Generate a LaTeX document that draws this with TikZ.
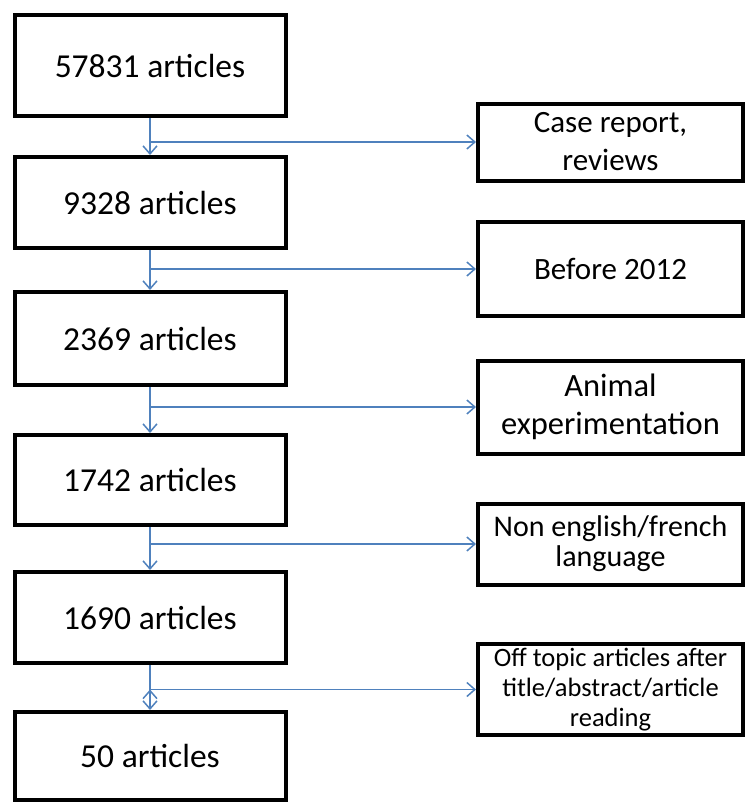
\documentclass[tikz,border=0pt]{standalone}
\usepackage{fontspec}
\setmainfont{Carlito}
\usepackage{tikz}
\usetikzlibrary{arrows.meta}
\definecolor{flowblue}{RGB}{79,129,189}
\tikzstyle{stage}=[rectangle,draw,line width=4pt,minimum width=271pt,inner sep=2pt,align=center,font=\fontsize{33.5}{40}\selectfont]
\tikzstyle{excl}=[rectangle,draw,line width=4pt,minimum width=265pt,inner sep=1pt,align=center,font=\fontsize{31}{38}\selectfont]
\tikzstyle{flow}=[draw=flowblue,line width=1.5pt,-{Straight Barb[length=8pt,width=14pt,line width=1.5pt]}]
\newcommand{\stage}{\node[stage]}
\newcommand{\excl}{\node[excl]}

\begin{document}
\begin{tikzpicture}[x=1pt,y=-1pt]
    \useasboundingbox (0,0) rectangle (747,804);
    \stage[minimum height=101pt] (a1) at (150,65.5) {57831 articles};
    \stage[minimum height=91pt] (a2) at (150,202.5) {9328 articles};
    \stage[minimum height=93pt] (a3) at (150,338.5) {2369 articles};
    \stage[minimum height=90pt] (a4) at (150,480) {1742 articles};
    \stage[minimum height=91pt] (a5) at (150,617.5) {1690 articles};
    \stage[minimum height=88pt] (a6) at (150,756) {50 articles};
    \excl[minimum height=77pt] (e1) at (610.5,142) {Case report,\\reviews};
    \excl[minimum height=94pt] (e2) at (610.5,269) {Before 2012};
    \excl[minimum height=93pt,font=\fontsize{32.5}{38}\selectfont] (e3) at (610.5,407) {Animal\\experimentation};
    \excl[minimum height=81pt,font=\fontsize{30}{30}\selectfont] (e4) at (610.5,544) {Non english/french\\language};
    \excl[minimum height=91pt,font=\fontsize{26.5}{30}\selectfont] (e5) at (610.5,689.5) {Off topic articles after\\title/abstract/article\\reading};
    \path[flow]
    (a1) edge (a2)
    (a2) edge (a3)
    (a3) edge (a4)
    (a4) edge (a5)
    (a5) edge (a6)
    (a1.south |- e1) edge (e1)
    (a2.south |- e2) edge (e2)
    (a3.south |- e3) edge (e3)
    (a4.south |- e4) edge (e4)
    (a5.south |- e5) edge (e5);
\end{tikzpicture}
\end{document}
